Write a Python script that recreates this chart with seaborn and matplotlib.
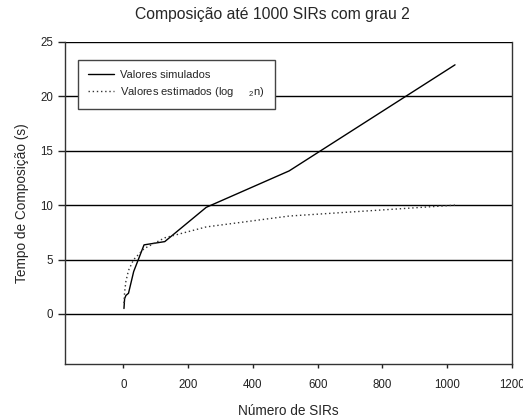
import matplotlib
matplotlib.use("Agg")
import matplotlib.pyplot as plt
import seaborn as sns
import pandas as pd

# dados
n_sirs = [2, 4, 8, 16, 32, 64, 128, 256, 512, 1024]
tempo_simulado = [0.5, 1.4, 1.7, 1.9, 3.9, 6.35, 6.65, 9.8, 13.15, 22.9]
tempo_estimado = [1, 2, 3, 4, 5, 6, 7, 8, 9, 10]
y_ticks = [0, 5, 10, 15, 20, 25]
x_ticks = [0, 200, 400, 600, 800, 1000, 1200]

sns.set_style("white")
plt.rcParams['font.family'] = ['Liberation Sans', 'DejaVu Sans']
plt.rcParams['mathtext.fontset'] = 'custom'
plt.rcParams['mathtext.rm'] = 'Liberation Sans'
plt.rcParams['mathtext.default'] = 'regular'

df = pd.DataFrame({'n': n_sirs, 'sim': tempo_simulado, 'est': tempo_estimado})

fig = plt.figure(figsize=(5.23, 4.19), dpi=100)
ax = fig.add_axes([0.1243, 0.1313, 0.8547, 0.7685])

# linhas de grade horizontais
for yv in y_ticks:
    ax.axhline(yv, color='black', linewidth=1.0, zorder=1)

sns.lineplot(data=df, x='n', y='sim', ax=ax, color='black', linewidth=1.0,
             label='Valores simulados', zorder=3)
sns.lineplot(data=df, x='n', y='est', ax=ax, color='#333333', linewidth=1.0,
             linestyle=(0, (1, 2)), label='Valores estimados (log     $_{2}$n)', zorder=3)

ax.set_xlim(-180, 1200)
ax.set_ylim(-4.6, 25)
ax.set_xticks(x_ticks)
ax.set_yticks(y_ticks)
ax.tick_params(axis='both', labelsize=8.3, colors='#222222', direction='out')
ax.tick_params(axis='y', length=5, width=1, left=True)
ax.tick_params(axis='x', length=3, width=1, bottom=True, pad=8)

for side in ['left', 'bottom', 'right']:
    ax.spines[side].set_color('#333333')
    ax.spines[side].set_linewidth(1.0)
ax.spines['top'].set_visible(False)

fig.text(0.52, 1 - 15 / 419, "Composição até 1000 SIRs com grau 2",
         fontsize=11.3, ha='center', va='center')
ax.set_xlabel("Número de SIRs", fontsize=9.8, labelpad=9)
ax.set_ylabel("Tempo de Composição (s)", fontsize=9.8, labelpad=8)

leg = ax.legend(loc='upper left', bbox_to_anchor=(0.029, 0.944), borderaxespad=0,
                fontsize=8, frameon=True, fancybox=False, handlelength=2.3,
                borderpad=0.9, labelspacing=0.45, handletextpad=0.6)
leg.get_frame().set_edgecolor('#444444')
leg.get_frame().set_linewidth(1.0)
leg.get_frame().set_facecolor('white')
leg.get_frame().set_alpha(1.0)
leg.set_zorder(5)

fig.savefig("out.png", dpi=100)
